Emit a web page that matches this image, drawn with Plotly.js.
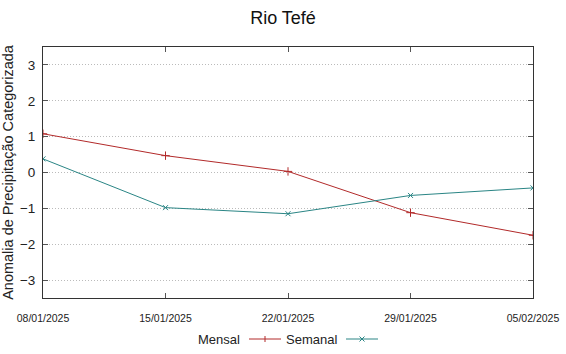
<!DOCTYPE html>
<html>
<head>
<meta charset="utf-8">
<script src="https://cdn.plot.ly/plotly-3.0.1.min.js"></script>
<style>html,body{margin:0;padding:0;background:#fff;}#chart{width:566px;height:354px;}</style>
</head>
<body>
<div id="chart"></div>
<script>
const dates = ["2025-01-08", "2025-01-15", "2025-01-22", "2025-01-29", "2025-02-05"];
const tickLabels = ["08/01/2025", "15/01/2025", "22/01/2025", "29/01/2025", "05/02/2025"];
const mensal = [1.08, 0.47, 0.03, -1.12, -1.75];
const semanal = [0.38, -0.98, -1.15, -0.64, -0.43];
const seriesNames = ["Mensal", "Semanal"];
const colorMensal = "#b22a2a";
const colorSemanal = "#2a8585";
const font = "Liberation Sans, Arial, sans-serif";

const traces = [
  {x: dates, y: mensal, name: seriesNames[0], type: "scatter", mode: "lines+markers",
   line: {color: colorMensal, width: 1}, marker: {symbol: "cross-thin", size: 6, line: {color: colorMensal, width: 1}}, showlegend: false},
  {x: dates, y: semanal, name: seriesNames[1], type: "scatter", mode: "lines+markers",
   line: {color: colorSemanal, width: 1}, marker: {symbol: "x-thin", size: 5, line: {color: colorSemanal, width: 1}}, showlegend: false}
];

const legY = 339;
const plotL = 43, plotW = 490, plotT = 47, plotH = 251;
function fx(x){ return (x - plotL) / plotW; }
function fy(y){ return (plotT + plotH - y) / plotH; }
const legendShapes = [
  {type: "line", xref: "paper", yref: "paper", x0: fx(249), x1: fx(281), y0: fy(legY), y1: fy(legY), line: {color: colorMensal, width: 1}},
  {type: "line", xref: "paper", yref: "paper", x0: fx(346), x1: fx(378), y0: fy(legY), y1: fy(legY), line: {color: colorSemanal, width: 1}},
  {type: "line", xref: "paper", yref: "paper", x0: fx(265), x1: fx(265), y0: fy(legY - 3), y1: fy(legY + 3), line: {color: colorMensal, width: 1}},
  {type: "line", xref: "paper", yref: "paper", x0: fx(359.5), x1: fx(364.5), y0: fy(legY - 2.5), y1: fy(legY + 2.5), line: {color: colorSemanal, width: 1}},
  {type: "line", xref: "paper", yref: "paper", x0: fx(359.5), x1: fx(364.5), y0: fy(legY + 2.5), y1: fy(legY - 2.5), line: {color: colorSemanal, width: 1}}
];

const layout = {
  width: 566, height: 354,
  margin: {l: 43, r: 33, t: 47, b: 56},
  paper_bgcolor: "#fff", plot_bgcolor: "#fff",
  font: {family: font, color: "#222", size: 13},
  title: {text: "Rio Tefé", font: {size: 18, family: font, color: "#111"}, x: 0.5, xanchor: "center", y: 1 - 18/354, yanchor: "middle"},
  showlegend: false,
  xaxis: {
    type: "date", range: [dates[0], dates[dates.length - 1]],
    tickvals: dates, ticktext: tickLabels,
    tickfont: {size: 10.5, family: font, color: "#222"},
    ticks: "inside", ticklen: 5, tickcolor: "#555", mirror: "allticks",
    showline: true, linecolor: "#333", linewidth: 1,
    showgrid: false, zeroline: false, ticklabelstandoff: 10
  },
  yaxis: {
    range: [-3.5, 3.5], tickvals: [-3, -2, -1, 0, 1, 2, 3],
    tickfont: {size: 13.5, family: font, color: "#222"},
    ticks: "inside", ticklen: 5, tickcolor: "#555", mirror: "allticks",
    showline: true, linecolor: "#333", linewidth: 1,
    showgrid: true, gridcolor: "#bbbbbb", griddash: "1px,2px", gridwidth: 1,
    zeroline: false, ticklabelstandoff: 4,
    title: {text: "Anomalia de Precipitação Categorizada", font: {size: 14.5, family: font, color: "#222"}, standoff: 3}
  },
  shapes: legendShapes,
  annotations: [
    {xref: "paper", yref: "paper", x: fx(242), y: fy(legY), text: seriesNames[0], showarrow: false, xanchor: "right", yanchor: "middle", font: {size: 13, family: font, color: "#222"}},
    {xref: "paper", yref: "paper", x: fx(339), y: fy(legY), text: seriesNames[1], showarrow: false, xanchor: "right", yanchor: "middle", font: {size: 13, family: font, color: "#222"}}
  ]
};

Plotly.newPlot("chart", traces, layout, {displayModeBar: false, staticPlot: true});
</script>
</body>
</html>
